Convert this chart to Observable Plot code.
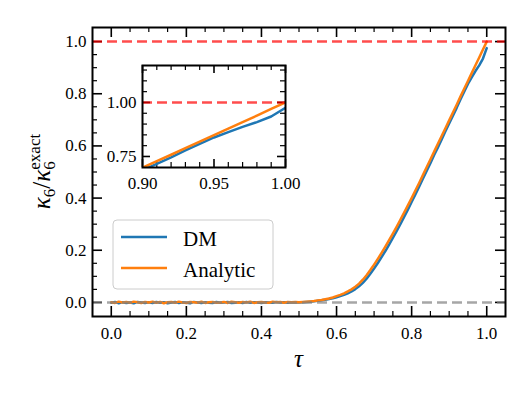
<!DOCTYPE html>
<html><head><meta charset="utf-8">
<script src="https://cdn.jsdelivr.net/npm/d3@7"></script>
<script src="https://cdn.jsdelivr.net/npm/@observablehq/plot@0.6"></script>
<style>
html,body{margin:0;padding:0;background:#fff;}
#wrap{position:relative;width:532px;height:399px;overflow:hidden;}
#inset{position:absolute;left:92px;top:55px;}
#wrap svg text, #wrap svg tspan{font-family:"Liberation Serif","DejaVu Serif",serif !important;}
</style></head><body><div id="wrap"></div>
<script>
// ---- data ----
const tau = [0.00,0.01,0.02,0.03,0.04,0.05,0.06,0.07,0.08,0.09,
0.10,0.11,0.12,0.13,0.14,0.15,0.16,0.17,0.18,0.19,
0.20,0.21,0.22,0.23,0.24,0.25,0.26,0.27,0.28,0.29,
0.30,0.31,0.32,0.33,0.34,0.35,0.36,0.37,0.38,0.39,
0.40,0.41,0.42,0.43,0.44,0.45,0.46,0.47,0.48,0.49,
0.50,0.51,0.52,0.53,0.54,0.55,0.56,0.57,0.58,0.59,
0.60,0.61,0.62,0.63,0.64,0.65,0.66,0.67,0.68,0.69,
0.70,0.71,0.72,0.73,0.74,0.75,0.76,0.77,0.78,0.79,
0.80,0.81,0.82,0.83,0.84,0.85,0.86,0.87,0.88,0.89,
0.90,0.91,0.92,0.93,0.94,0.95,0.96,0.97,0.98,0.99,1.00];
const dm = [-0.001,0.002,-0.003,0.001,-0.002,0.000,-0.003,0.002,0.000,-0.002,
0.001,-0.002,0.002,-0.001,0.001,-0.003,0.000,0.002,-0.002,0.001,
-0.001,-0.003,0.002,0.000,-0.002,0.001,-0.001,-0.002,0.002,-0.001,
0.000,0.002,-0.002,-0.001,0.001,-0.002,0.002,-0.001,0.001,0.000,
-0.002,0.001,0.000,-0.001,0.002,0.000,0.001,-0.001,0.001,0.000,
0.000,0.001,0.002,0.003,0.004,0.006,0.008,0.010,0.013,0.016,
0.020,0.024,0.029,0.035,0.042,0.051,0.062,0.075,0.091,0.110,
0.130,0.151,0.174,0.197,0.222,0.247,0.273,0.300,0.328,0.356,
0.385,0.414,0.444,0.474,0.504,0.534,0.565,0.594,0.625,0.656,
0.686,0.716,0.746,0.778,0.808,0.838,0.863,0.887,0.909,0.935,0.975];
const analytic = [0.001,-0.002,0.003,0.000,0.002,-0.001,0.003,0.001,-0.002,0.002,
0.000,0.003,-0.001,0.002,-0.003,0.001,0.002,-0.001,0.003,0.000,
-0.002,0.002,0.001,-0.001,0.003,-0.002,0.001,0.002,-0.001,0.000,
0.002,-0.002,0.003,0.001,-0.001,0.002,0.000,0.003,-0.002,0.001,
0.002,0.000,-0.001,0.003,0.001,0.002,-0.001,0.002,0.001,0.002,
0.001,0.002,0.003,0.004,0.005,0.007,0.009,0.012,0.015,0.019,
0.024,0.029,0.035,0.042,0.050,0.060,0.072,0.087,0.104,0.124,
0.145,0.167,0.190,0.214,0.239,0.264,0.290,0.317,0.344,0.372,
0.400,0.429,0.458,0.488,0.518,0.548,0.578,0.608,0.638,0.668,
0.698,0.728,0.758,0.789,0.819,0.849,0.879,0.909,0.939,0.970,1.000];

const seriesNames = ["DM", "Analytic"];
const seriesColors = ["#1f77b4", "#ff7f0e"];
const exactLine = [1];
const zeroLine = [0];

const xTicks = [0.0, 0.2, 0.4, 0.6, 0.8, 1.0];
const xMinor = [0.05,0.10,0.15,0.25,0.30,0.35,0.45,0.50,0.55,0.65,0.70,0.75,0.85,0.90,0.95];
const yTicks = [0.0, 0.2, 0.4, 0.6, 0.8, 1.0];
const yMinor = [0.05,0.10,0.15,0.25,0.30,0.35,0.45,0.50,0.55,0.65,0.70,0.75,0.85,0.90,0.95];

const insetXTicks = [0.90, 0.95, 1.00];
const insetXMinor = [0.91,0.92,0.93,0.94,0.96,0.97,0.98,0.99];
const insetYTicks = [0.75, 1.00];
const insetYMinor = [0.80,0.85,0.90,0.95,1.05,1.10,1.15];

// ---- helpers ----
const rows = tau.map((t, i) => ({tau: t, dm: dm[i], analytic: analytic[i]}));
const FONT = "Liberation Serif, DejaVu Serif, serif";

function tickMarks(fw, fh, xMaj, xMin, yMaj, yMin, majLen, minLen) {
  const o = (len, side) => ({stroke: "black", strokeWidth: len === majLen ? 1.6 : 1.2, [side]: (side.includes("Top") || side.includes("Bottom") ? fh : fw) - len});
  return [
    Plot.tickX(xMaj, {x: d => d, ...o(majLen, "insetTop")}),
    Plot.tickX(xMaj, {x: d => d, ...o(majLen, "insetBottom")}),
    Plot.tickX(xMin, {x: d => d, ...o(minLen, "insetTop")}),
    Plot.tickX(xMin, {x: d => d, ...o(minLen, "insetBottom")}),
    Plot.tickY(yMaj, {y: d => d, ...o(majLen, "insetRight")}),
    Plot.tickY(yMaj, {y: d => d, ...o(majLen, "insetLeft")}),
    Plot.tickY(yMin, {y: d => d, ...o(minLen, "insetRight")}),
    Plot.tickY(yMin, {y: d => d, ...o(minLen, "insetLeft")})
  ];
}

// ---- main chart ----
const W = 532, H = 399, mL = 92, mR = 27, mT = 27, mB = 83;
const fw = W - mL - mR, fh = H - mT - mB;

const main = Plot.plot({
  width: W, height: H,
  marginLeft: mL, marginRight: mR, marginTop: mT, marginBottom: mB,
  x: {domain: [-0.05, 1.05]},
  y: {domain: [-0.054, 1.054]},
  style: {fontFamily: FONT, fontSize: "17px", color: "black", background: "white"},
  marks: [
    ...tickMarks(fw, fh, xTicks, xMinor, yTicks, yMinor, 10, 5),
    Plot.axisX({ticks: xTicks, tickSize: 0, tickPadding: 10, tickFormat: d3.format(".1f"), label: null, fontFamily: FONT}),
    Plot.axisY({ticks: yTicks, tickSize: 0, tickPadding: 6, tickFormat: d3.format(".1f"), label: null, fontFamily: FONT}),
    Plot.line(rows, {x: "tau", y: "dm", stroke: seriesColors[0], strokeWidth: 2.5}),
    Plot.line(rows, {x: "tau", y: "analytic", stroke: seriesColors[1], strokeWidth: 2.5}),
    Plot.ruleY(exactLine, {y: d => d, stroke: "red", strokeOpacity: 0.7, strokeWidth: 2.5, strokeDasharray: "10,5"}),
    Plot.ruleY(zeroLine, {y: d => d, stroke: "gray", strokeOpacity: 0.7, strokeWidth: 2.5, strokeDasharray: "10,5"}),
    Plot.frame({stroke: "black", strokeWidth: 2})
  ]
});
document.getElementById("wrap").appendChild(main);

const svg = d3.select(main);
// x label
svg.append("text")
  .attr("x", mL + fw / 2).attr("y", 367)
  .attr("text-anchor", "middle")
  .attr("font-size", 25).attr("font-style", "italic")
  .text("τ");
// y label
const yl = svg.append("text")
  .attr("transform", `translate(50,${mT + fh / 2}) rotate(-90)`)
  .attr("text-anchor", "middle")
  .attr("font-size", 25);
yl.append("tspan").attr("font-style", "italic").text("κ");
yl.append("tspan").attr("font-size", 17).attr("dy", 5).text("6");
yl.append("tspan").attr("dy", -5).text("/");
yl.append("tspan").attr("font-style", "italic").text("κ");
yl.append("tspan").attr("font-size", 17).attr("dy", 5).text("6");
yl.append("tspan").attr("font-size", 17).attr("dx", -8.5).attr("dy", -15).text("exact");

// legend
const lg = svg.append("g").attr("text-anchor", "start");
lg.append("rect").attr("x", 113).attr("y", 220).attr("width", 160).attr("height", 69).attr("rx", 4)
  .attr("fill", "white").attr("fill-opacity", 0.8).attr("stroke", "#cccccc").attr("stroke-width", 1);
seriesNames.forEach((name, i) => {
  const cy = 237 + i * 31;
  lg.append("line").attr("x1", 121).attr("x2", 167).attr("y1", cy).attr("y2", cy)
    .attr("stroke", seriesColors[i]).attr("stroke-width", 2.5);
  lg.append("text").attr("x", 183).attr("y", cy + 9).attr("text-anchor", "start")
    .attr("font-size", 21).attr("fill", "black").text(name);
});

// ---- inset ----
const iW = 210, iH = 145, imL = 50, imR = 17, imT = 10, imB = 33;
const ifw = iW - imL - imR, ifh = iH - imT - imB;
const inset = Plot.plot({
  width: iW, height: iH,
  marginLeft: imL, marginRight: imR, marginTop: imT, marginBottom: imB,
  x: {domain: [0.90, 1.00]},
  y: {domain: [0.699, 1.171]},
  style: {fontFamily: FONT, fontSize: "17px", color: "black", background: "transparent"},
  marks: [
    Plot.frame({fill: "white"}),
    ...tickMarks(ifw, ifh, insetXTicks, insetXMinor, insetYTicks, insetYMinor, 8, 5),
    Plot.axisX({ticks: insetXTicks, tickSize: 0, tickPadding: 9, tickFormat: d3.format(".2f"), label: null, fontFamily: FONT}),
    Plot.axisY({ticks: insetYTicks, tickSize: 0, tickPadding: 6, tickFormat: d3.format(".2f"), label: null, fontFamily: FONT}),
    Plot.line(rows, {x: "tau", y: "dm", stroke: seriesColors[0], strokeWidth: 2.5, clip: true}),
    Plot.line(rows, {x: "tau", y: "analytic", stroke: seriesColors[1], strokeWidth: 2.5, clip: true}),
    Plot.ruleY(exactLine, {y: d => d, stroke: "red", strokeOpacity: 0.7, strokeWidth: 2.5, strokeDasharray: "10,5"}),
    Plot.frame({stroke: "black", strokeWidth: 2})
  ]
});
inset.id = "inset";
document.getElementById("wrap").appendChild(inset);
</script>
</body></html>
